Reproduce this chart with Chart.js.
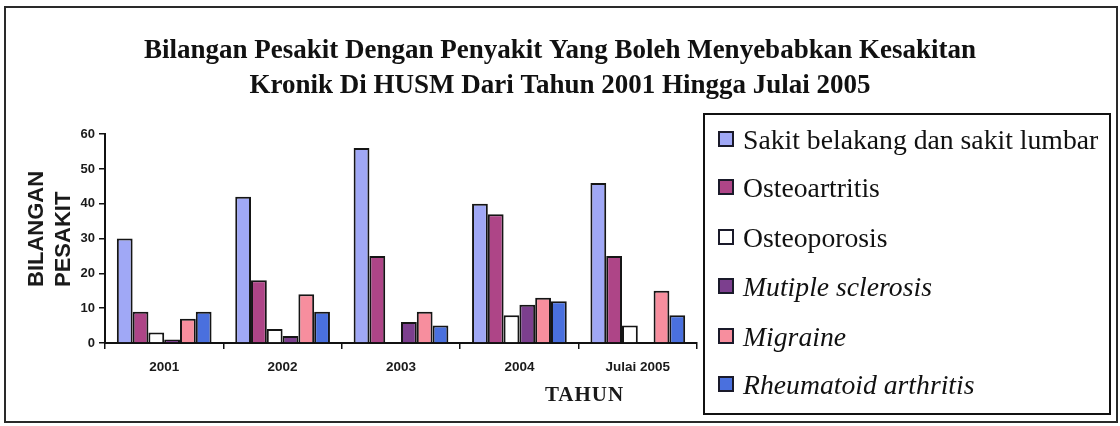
<!DOCTYPE html>
<html>
<head>
<meta charset="utf-8">
<script src="https://cdn.jsdelivr.net/npm/chart.js@4.4.1/dist/chart.umd.min.js"></script>
<style>
  html, body { margin: 0; padding: 0; background: #ffffff; }
  #wrap { position: relative; width: 1120px; height: 426px; overflow: hidden; background: #fff; }
  #frame { position: absolute; left: 4px; top: 6px; width: 1114px; height: 417px; border: 2px solid #2a2a2a; box-sizing: border-box; }
  #chart { position: absolute; left: 0; top: 0; }
  #legend { position: absolute; left: 703px; top: 113px; width: 408px; height: 302px; border: 2px solid #111; box-sizing: border-box; }
  .li { position: absolute; left: 0; height: 40px; display: flex; align-items: center; }
  .mk { position: absolute; left: 13px; width: 16px; height: 16px; box-sizing: border-box; border: 2px solid #1a1a2a; }
  .tx { position: absolute; left: 38px; white-space: nowrap; font-family: "Liberation Serif", "Times New Roman", serif; font-size: 27.7px; color: #111; line-height: 40px; top: 0; }
</style>
</head>
<body>
<div id="wrap">
  <div id="frame"></div>
  <canvas id="chart" width="1120" height="426"></canvas>
  <div id="legend"></div>
</div>
<script>
// ---- data ----
const titleLines = ["Bilangan Pesakit Dengan Penyakit Yang Boleh Menyebabkan Kesakitan", "Kronik Di HUSM Dari Tahun 2001 Hingga Julai 2005"];
const categories = ["2001", "2002", "2003", "2004", "Julai 2005"];
const seriesNames = ["Sakit belakang dan sakit lumbar", "Osteoartritis", "Osteoporosis", "Mutiple sclerosis", "Migraine", "Rheumatoid arthritis"];
const sakitBelakang = [30, 42, 56, 40, 46];
const osteoartritis = [9, 18, 25, 37, 25];
const osteoporosis = [3, 4, 0, 8, 5];
const multipleSclerosis = [1, 2, 6, 11, 0];
const migraine = [7, 14, 9, 13, 15];
const rheumatoid = [9, 9, 5, 12, 8];
const yTicks = [0, 10, 20, 30, 40, 50, 60];
const yTitleLines = ["BILANGAN", "PESAKIT"];
const xTitle = "TAHUN";

// ---- styles ----
const seriesColors = ["#A0A8F6", "#AE4587", "#FFFFFF", "#7C3F8E", "#F78E9E", "#4A70DE"];
const legendItalic = [false, false, false, true, true, true];
const seriesValues = [sakitBelakang, osteoartritis, osteoporosis, multipleSclerosis, migraine, rheumatoid];

const datasets = seriesNames.map((name, i) => ({
  label: name,
  data: seriesValues[i],
  backgroundColor: seriesColors[i],
  borderColor: "#151515",
  borderWidth: 2,
  borderSkipped: "bottom",
  barPercentage: 1.0,
  categoryPercentage: 0.8
}));

const axisTitles = {
  id: "axisTitles",
  afterDraw(chart) {
    const ctx = chart.ctx;
    const ca = chart.chartArea;
    ctx.save();
    ctx.fillStyle = "#1a1a1a";
    // y title (two rotated lines)
    ctx.font = "bold 22px 'Liberation Sans', Arial, sans-serif";
    ctx.textAlign = "left";
    ctx.textBaseline = "middle";
    const xs = [37, 64];
    yTitleLines.forEach((t, i) => {
      ctx.save();
      ctx.translate(xs[i], ca.bottom - 56);
      ctx.rotate(-Math.PI / 2);
      ctx.fillText(t, 0, 0);
      ctx.restore();
    });
    // x title
    ctx.font = "bold 21px 'Liberation Serif', 'Times New Roman', serif";
    ctx.letterSpacing = "1px";
    ctx.textAlign = "center";
    ctx.textBaseline = "alphabetic";
    ctx.fillText(xTitle, ca.left + (ca.right - ca.left) * 0.81, 401);
    ctx.restore();
  }
};

const chart = new Chart(document.getElementById("chart"), {
  type: "bar",
  data: { labels: categories, datasets },
  plugins: [axisTitles],
  options: {
    responsive: false,
    animation: false,
    layout: { padding: { left: 0, right: 0, top: 0, bottom: 0 } },
    plugins: {
      legend: { display: false },
      tooltip: { enabled: false },
      title: {
        display: true,
        text: titleLines,
        color: "#111",
        font: { family: "'Liberation Serif', 'Times New Roman', serif", size: 27, weight: "bold", lineHeight: 1.3 },
        padding: { top: 33, bottom: 31 }
      }
    },
    scales: {
      x: {
        grid: { display: true, drawOnChartArea: false, drawTicks: true, tickLength: 6, color: "#111", lineWidth: 1.5, offset: true },
        border: { display: true, color: "#111", width: 2 },
        ticks: { color: "#1a1a1a", font: { family: "'Liberation Sans', Arial, sans-serif", size: 13.5, weight: "bold" }, padding: 10, maxRotation: 0, autoSkip: false },
        afterFit(s) { s.height = 83; }
      },
      y: {
        min: 0,
        max: 60,
        afterBuildTicks(s) { s.ticks = yTicks.map(v => ({ value: v })); },
        grid: { display: true, drawOnChartArea: false, drawTicks: true, tickLength: 6, color: "#111", lineWidth: 1.5 },
        border: { display: true, color: "#111", width: 2 },
        ticks: { color: "#1a1a1a", font: { family: "'Liberation Sans', Arial, sans-serif", size: 13, weight: "bold" }, padding: 4 },
        afterFit(s) { s.width = 105; }
      },
      spacer: {
        position: "right",
        display: true,
        grid: { display: false },
        border: { display: false },
        ticks: { display: false },
        afterFit(s) { s.width = 423; }
      }
    }
  }
});

// HTML legend built from the chart's datasets
const legendEl = document.getElementById("legend");
const rowCenters = [25, 73, 123, 172, 222, 270];
chart.data.datasets.forEach((ds, i) => {
  const row = document.createElement("div");
  row.className = "li";
  row.style.top = (rowCenters[i] - 20) + "px";
  row.style.width = "100%";
  const mk = document.createElement("span");
  mk.className = "mk";
  mk.style.background = ds.backgroundColor;
  mk.style.top = "11px";
  const tx = document.createElement("span");
  tx.className = "tx";
  tx.textContent = ds.label;
  if (legendItalic[i]) tx.style.fontStyle = "italic";
  row.appendChild(mk);
  row.appendChild(tx);
  legendEl.appendChild(row);
});
</script>
</body>
</html>
